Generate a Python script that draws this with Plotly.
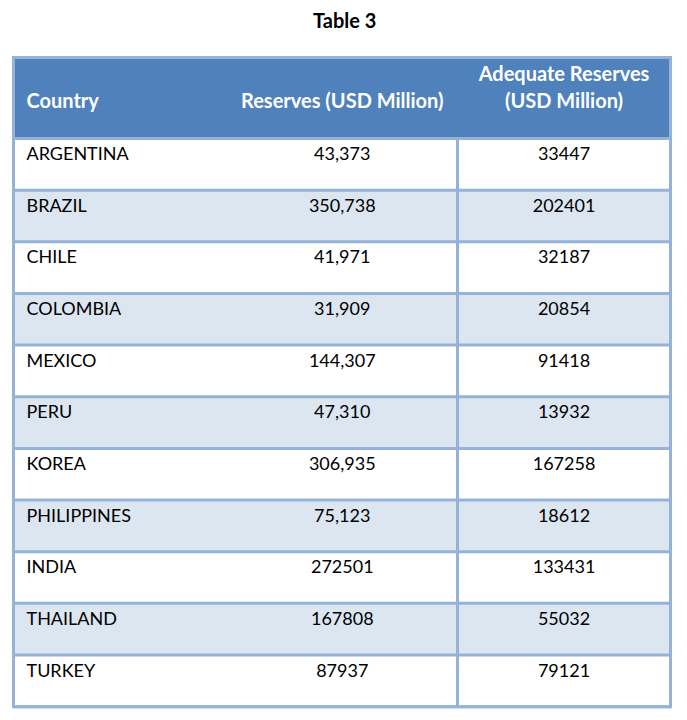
import plotly.graph_objects as go

# ---- data ----
title_text = "Table 3"
header_line1 = ["", "", "Adequate Reserves"]
header_line2 = ["Country", "Reserves (USD Million)", "(USD Million)"]
countries = ["ARGENTINA", "BRAZIL", "CHILE", "COLOMBIA", "MEXICO", "PERU",
             "KOREA", "PHILIPPINES", "INDIA", "THAILAND", "TURKEY"]
reserves = ["43,373", "350,738", "41,971", "31,909", "144,307", "47,310",
            "306,935", "75,123", "272501", "167808", "87937"]
adequate_reserves = [33447, 202401, 32187, 20854, 91418, 13932,
                     167258, 18612, 133431, 55032, 79121]

# ---- layout constants (page pixels; the page body has an 8px margin) ----
PAGE_W, PAGE_H = 687, 720
OFF = 8
W, H = PAGE_W - 2 * OFF, PAGE_H - 2 * OFF
X0, X1, X2, X3 = 13.5, 227.0, 457.5, 670.5
TEXT_X0 = 18.5            # where the text table starts (left padding of first column)
Y_TOP = 57.5
HEADER_H = 81.0
HEADER_ROWS = 3
ROW_H = 51.65
FONT = "Lato, 'Open Sans', sans-serif"
HEADER_BLUE = "#4F81BD"
BORDER = "#95B3D7"
ALT = "#DCE6F1"

n = len(countries)
Y_HDR = Y_TOP + HEADER_H
Y_BOT = Y_HDR + n * ROW_H

def px(x):
    return (x - OFF) / W

def py(y):
    return 1 - (y - OFF) / H

shapes = []
# header background
shapes.append(dict(type="rect", xref="paper", yref="paper", x0=px(X0), x1=px(X3),
                   y0=py(Y_HDR), y1=py(Y_TOP), fillcolor=HEADER_BLUE, line_width=0, layer="below"))
# row backgrounds
for i in range(n):
    fill = "white" if i % 2 == 0 else ALT
    shapes.append(dict(type="rect", xref="paper", yref="paper", x0=px(X0), x1=px(X3),
                       y0=py(Y_HDR + (i + 1) * ROW_H), y1=py(Y_HDR + i * ROW_H),
                       fillcolor=fill, line_width=0, layer="below"))
# horizontal rules
for i in range(n + 1):
    y = Y_HDR + i * ROW_H
    shapes.append(dict(type="line", xref="paper", yref="paper", x0=px(X0), x1=px(X3),
                       y0=py(y), y1=py(y), line=dict(color=BORDER, width=3), layer="below"))
# vertical rule between the two numeric columns (body only)
shapes.append(dict(type="line", xref="paper", yref="paper", x0=px(X2), x1=px(X2),
                   y0=py(Y_HDR), y1=py(Y_BOT), line=dict(color=BORDER, width=3), layer="below"))
# outer frame
shapes.append(dict(type="rect", xref="paper", yref="paper", x0=px(X0), x1=px(X3),
                   y0=py(Y_BOT), y1=py(Y_TOP), fillcolor="rgba(0,0,0,0)",
                   line=dict(color=BORDER, width=3), layer="below"))

header_vals = [[header_line1[k], header_line2[k], ""] for k in range(3)]

fig = go.Figure(go.Table(
    domain=dict(x=[px(TEXT_X0), px(X3)], y=[py(Y_BOT), py(Y_TOP)]),
    columnwidth=[X1 - TEXT_X0, X2 - X1, X3 - X2],
    header=dict(
        values=header_vals,
        align=["left", "center", "center"],
        height=HEADER_H / HEADER_ROWS,
        fill=dict(color="rgba(0,0,0,0)"),
        line=dict(width=0, color="rgba(0,0,0,0)"),
        font=dict(family=FONT, size=20, color="white", weight="bold"),
    ),
    cells=dict(
        values=[countries, reserves, [str(v) for v in adequate_reserves]],
        align=["left", "center", "center"],
        height=ROW_H,
        fill=dict(color="rgba(0,0,0,0)"),
        line=dict(width=0, color="rgba(0,0,0,0)"),
        font=dict(family=FONT, size=18, color="black"),
    ),
))

fig.update_layout(
    width=W, height=H,
    margin=dict(l=0, r=0, t=0, b=0),
    paper_bgcolor="white",
    plot_bgcolor="white",
    shapes=shapes,
    annotations=[dict(text="<b>" + title_text + "</b>", xref="paper", yref="paper",
                      x=px(344), y=py(20), xanchor="center", yanchor="middle", showarrow=False,
                      font=dict(family=FONT, size=20, color="black"))],
)

fig.write_html("out.html")
